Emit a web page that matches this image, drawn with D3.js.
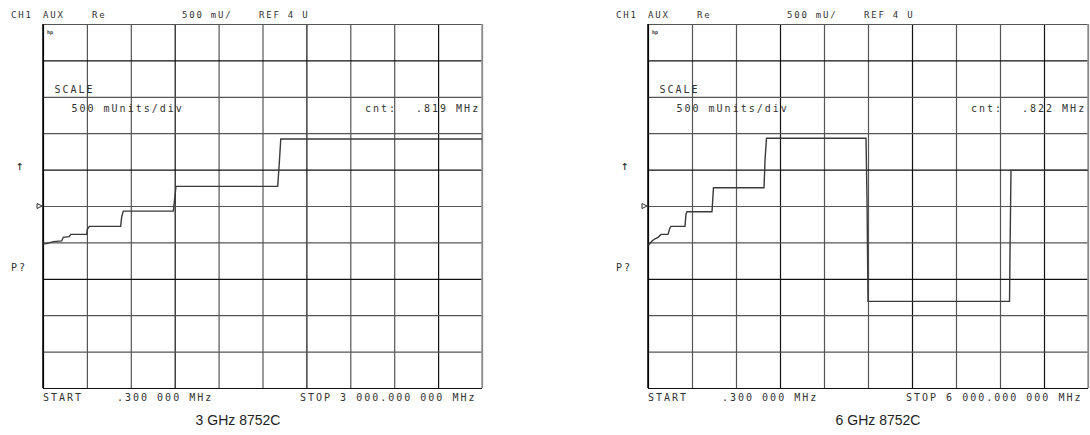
<!DOCTYPE html>
<html>
<head>
<meta charset="utf-8">
<script src="https://cdn.jsdelivr.net/npm/d3@7"></script>
<style>
  body { margin: 0; background: #fff; }
  .mono { font-family: "DejaVu Sans Mono", monospace; fill: #333; }
  .cap { font-family: "Liberation Sans", Arial, sans-serif; fill: #222; }
</style>
</head>
<body>
<svg id="chart"></svg>
<script>
const width = 1090
const height = 435

const freq3g = [0.3, 14, 36, 71, 128, 139, 180, 190, 299, 303, 317, 531, 538, 549, 891, 898, 909, 1604, 1615, 1625, 3000];
const value3g = [3.48, 3.48, 3.49, 3.51, 3.52, 3.57, 3.58, 3.61, 3.61, 3.68, 3.72, 3.72, 3.85, 3.93, 3.93, 4.06, 4.27, 4.27, 4.59, 4.92, 4.92];

const freq6g = [0.3, 14, 55, 96, 137, 178, 273, 300, 314, 505, 518, 532, 873, 887, 893, 1582, 1596, 1616, 2973, 2987, 3000, 4930, 4937, 4950, 6000];
const value6g = [3.47, 3.47, 3.52, 3.55, 3.57, 3.61, 3.61, 3.70, 3.72, 3.72, 3.89, 3.92, 3.92, 4.15, 4.25, 4.25, 4.63, 4.93, 4.93, 4.08, 2.69, 2.69, 3.40, 4.49, 4.49];

const startFreq = 0.3
const stopFreqs = [3000, 6000]
const refLevel = 4      // REF 4 U
const scaleDiv = 0.5    // 500 mU/div
const divisions = 10

const stopLabels = ["STOP 3 000.000 000 MHz", "STOP 6 000.000 000 MHz"];
const cntLabels = [".819 MHz", ".822 MHz"];
const captions = ["3 GHz 8752C", "6 GHz 8752C"];

const layout = [
  {x0: 43, x1: 482, capX: 238},
  {x0: 648, x1: 1088, capX: 878}
];
const plotTop = 24, plotBottom = 388;

const svg = d3.select("#chart")
    .attr("width", width)
    .attr("height", height);

const panel = (i, freq, value) => {
  const L = layout[i];
  const stop = stopFreqs[i];

  const x = d3.scaleLinear()
      .domain([startFreq, stop])
      .range([L.x0, L.x1]);
  const y = d3.scaleLinear()
      .domain([refLevel - scaleDiv * divisions / 2, refLevel + scaleDiv * divisions / 2])
      .range([plotBottom, plotTop]);

  const g = svg.append("g");

  const xTicks = d3.range(divisions + 1).map(k => startFreq + k * (stop - startFreq) / divisions);
  const yTicks = d3.range(divisions + 1).map(k => y.domain()[0] + k * scaleDiv);

  // graticule from the axes, ticks stretched across the plot
  const gx = g.append("g")
      .attr("transform", `translate(0,${plotBottom})`)
      .call(d3.axisBottom(x).tickValues(xTicks).tickSize(-(plotBottom - plotTop)).tickFormat(""));
  const gy = g.append("g")
      .attr("transform", `translate(${L.x0},0)`)
      .call(d3.axisLeft(y).tickValues(yTicks).tickSize(-(L.x1 - L.x0)).tickFormat(""));
  [gx, gy].forEach(a => {
    a.select(".domain").remove();
    a.selectAll("line")
        .attr("stroke", (d, k) => k % 3 === 0 ? "#111" : "#555")
        .attr("stroke-width", 1.2);
  });
  g.append("line")
      .attr("x1", L.x0).attr("x2", L.x0).attr("y1", plotTop).attr("y2", plotBottom)
      .attr("stroke", "#000").attr("stroke-width", 1.5);
  g.append("line")
      .attr("x1", L.x1).attr("x2", L.x1).attr("y1", plotTop).attr("y2", plotBottom)
      .attr("stroke", "#999").attr("stroke-width", 1.5);

  const line = d3.line()
      .x((d, k) => x(freq[k]))
      .y(d => y(d));
  g.append("path")
      .datum(value)
      .attr("fill", "none")
      .attr("stroke", "#3a3a3a")
      .attr("stroke-width", 1.4)
      .attr("d", line);

  // annotations
  const txt = (s, tx, ty, size, cls) => g.append("text")
      .attr("class", cls || "mono")
      .attr("x", tx).attr("y", ty)
      .attr("font-size", size)
      .attr("letter-spacing", cls ? null : (size > 9 ? 2 : 1.8))
      .text(s);

  txt("CH1", L.x0 - 32, 18, 9);
  txt("AUX", L.x0, 18, 9);
  txt("Re", L.x0 + 49, 18, 9);
  txt("500 mU/", L.x0 + 139, 18, 9);
  txt("REF 4 U", L.x0 + 216, 18, 9);
  txt("hp", L.x0 + 4, 34, 5).attr("font-weight", "bold").attr("letter-spacing", 0);
  txt("SCALE", L.x0 + 11.5, 92.5, 10);
  txt("500 mUnits/div", L.x0 + 28.5, 112, 10);
  txt("cnt:", L.x1 - 117, 112, 10);
  txt(cntLabels[i], L.x1 - 66, 112, 10);
  txt("\u2191", L.x0 - 27, 170, 13).attr("letter-spacing", 0);
  txt("P?", L.x0 - 32, 271, 10);
  txt("START", L.x0, 401, 10);
  txt(".300 000 MHz", L.x0 + 74, 401, 10);
  txt(stopLabels[i], L.x1 - 182, 401, 10);

  // reference position marker
  g.append("path")
      .attr("d", `M${L.x0 - 6},${y(refLevel) - 2.5}L${L.x0 - 1},${y(refLevel)}L${L.x0 - 6},${y(refLevel) + 2.5}Z`)
      .attr("fill", "none")
      .attr("stroke", "#333")
      .attr("stroke-width", 1);

  g.append("text")
      .attr("class", "cap")
      .attr("x", L.capX)
      .attr("y", 425)
      .attr("text-anchor", "middle")
      .attr("font-size", 14)
      .text(captions[i]);
}

panel(0, freq3g, value3g);
panel(1, freq6g, value6g);
</script>
</body>
</html>
